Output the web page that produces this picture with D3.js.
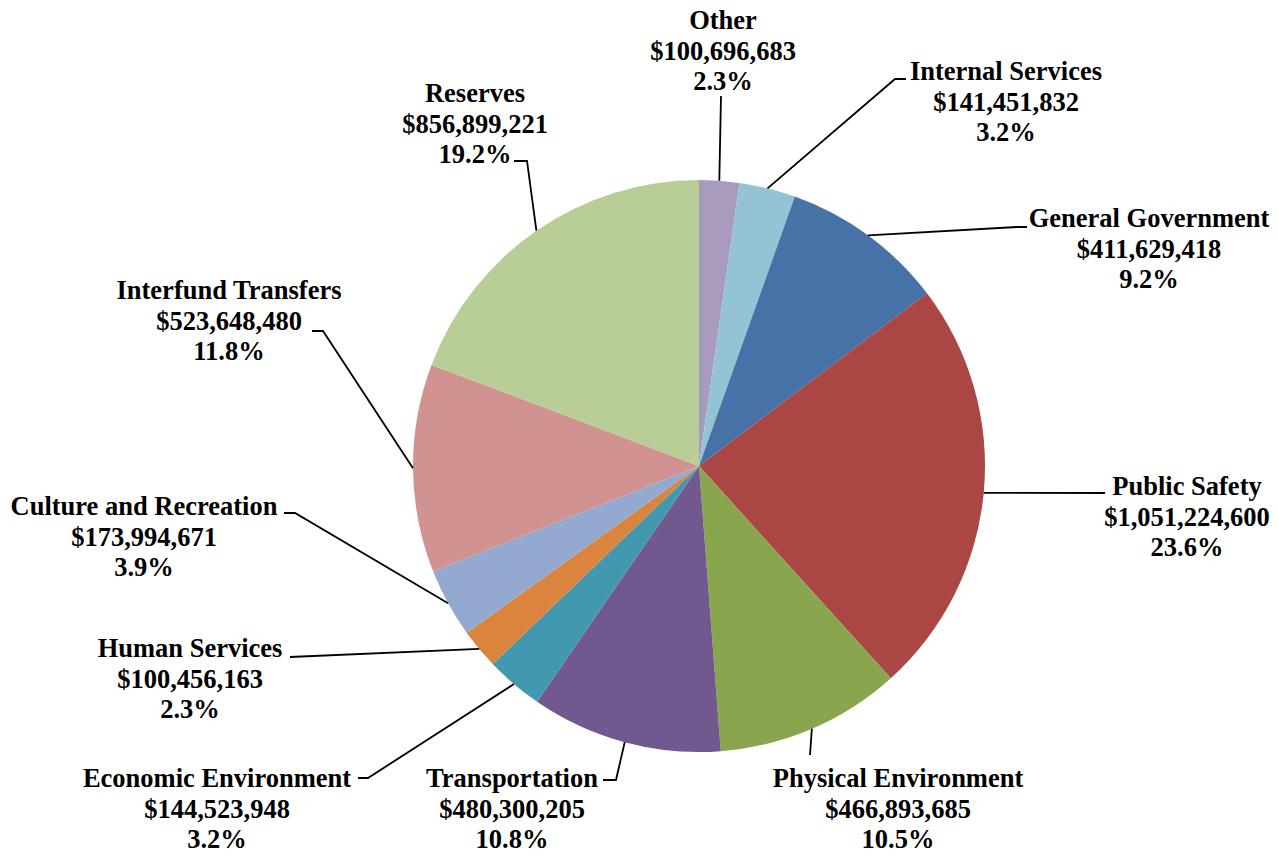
<!DOCTYPE html>
<html>
<head>
<meta charset="utf-8">
<script src="https://d3js.org/d3.v7.min.js"></script>
<style>
  body { margin: 0; background: #fff; }
  text { font-family: "Liberation Serif", "Times New Roman", serif; font-weight: bold; fill: #000; }
</style>
</head>
<body>
<script>
// slices, clockwise from 12 o'clock
var categories = ["Other", "Internal Services", "General Government", "Public Safety",
    "Physical Environment", "Transportation", "Economic Environment", "Human Services",
    "Culture and Recreation", "Interfund Transfers", "Reserves"];
var values = [100696683, 141451832, 411629418, 1051224600,
    466893685, 480300205, 144523948, 100456163,
    173994671, 523648480, 856899221];
var colors = ["#A99BBD", "#93C3D4", "#4672A8", "#AA4643",
    "#89A54E", "#71588F", "#4198AF", "#DB843D",
    "#93A9CF", "#D19392", "#B9CD96"];

// label placement (manual, like the original): text centre x, first baseline y,
// and the leader points after the slice edge
var labelLayout = [
    {x: 723, y: 29, leader: [[721, 96]]},
    {x: 1006, y: 80, leader: [[895, 79], [906, 79]]},
    {x: 1149, y: 227, leader: [[1017, 227], [1027, 227]]},
    {x: 1187, y: 495, leader: [[1105, 493]]},
    {x: 898, y: 787, leader: [[810, 755]]},
    {x: 512, y: 787, leader: [[616, 780], [603, 780]]},
    {x: 217, y: 787, leader: [[368, 778], [358, 778]]},
    {x: 190, y: 657, leader: [[290, 657]]},
    {x: 144, y: 515, leader: [[295, 513], [284, 513]]},
    {x: 229, y: 299, leader: [[323, 331], [312, 331]]},
    {x: 475, y: 102, leader: [[527, 161], [514, 161]]}
];

var width = 1278, height = 855,
    cx = 699, cy = 466, radius = 286,
    fontSize = 26.5, lineGap = 30.5;

var total = d3.sum(values);
var fmtMoney = d3.format("$,");
var fmtPct = d3.format(".1%");

var data = categories.map(function(c, i) {
    return {name: c, value: values[i], color: colors[i], layout: labelLayout[i]};
});

var svg = d3.select("body").append("svg")
    .attr("width", width)
    .attr("height", height);

var pie = d3.pie()
    .sort(null)
    .value(function(d) { return d.value; });

var arc = d3.arc().innerRadius(0).outerRadius(radius);
var edge = d3.arc().innerRadius(radius).outerRadius(radius);

var arcs = pie(data);

var g = svg.append("g").attr("transform", "translate(" + cx + "," + cy + ")");

g.selectAll("path.slice")
    .data(arcs)
    .enter().append("path")
    .attr("class", "slice")
    .attr("d", arc)
    .attr("fill", function(d) { return d.data.color; });

// leader lines from the slice edge to the label
var line = d3.line();
svg.selectAll("path.leader")
    .data(arcs)
    .enter().append("path")
    .attr("class", "leader")
    .attr("d", function(d) {
        var p = edge.centroid(d);
        var pts = [[p[0] + cx, p[1] + cy]].concat(d.data.layout.leader);
        return line(pts);
    })
    .attr("fill", "none")
    .attr("stroke", "#000")
    .attr("stroke-width", 1.8);

var labels = svg.selectAll("text.label")
    .data(arcs)
    .enter().append("text")
    .attr("class", "label")
    .attr("text-anchor", "middle")
    .attr("font-size", fontSize)
    .attr("x", function(d) { return d.data.layout.x; })
    .attr("y", function(d) { return d.data.layout.y; });

labels.each(function(d) {
    var t = d3.select(this);
    var rows = [d.data.name, fmtMoney(d.data.value), fmtPct(d.data.value / total)];
    rows.forEach(function(r, i) {
        t.append("tspan")
            .attr("x", d.data.layout.x)
            .attr("dy", i === 0 ? 0 : lineGap)
            .text(r);
    });
});
</script>
</body>
</html>
